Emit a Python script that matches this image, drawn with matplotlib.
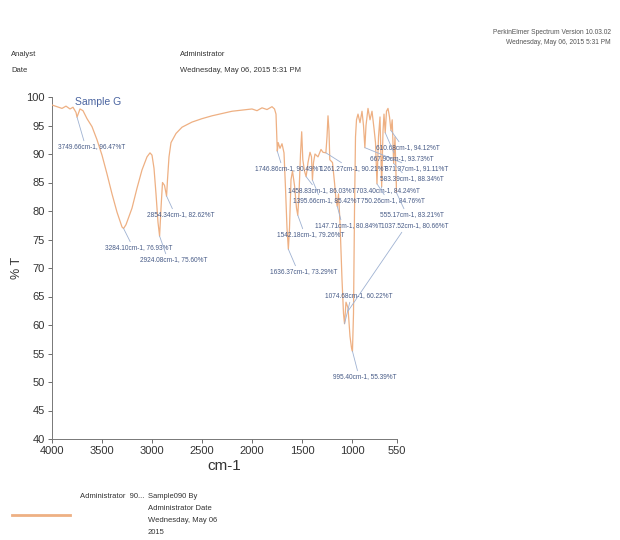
import matplotlib
matplotlib.use("Agg")
import matplotlib.pyplot as plt
from matplotlib.lines import Line2D

# ---------------- data ----------------
wavenumber = [4000, 3950, 3900, 3860, 3820, 3790, 3760, 3749.66, 3720, 3690, 3650,
              3600, 3550, 3500, 3450, 3400, 3350, 3300, 3284.10, 3260, 3200, 3150,
              3100, 3050, 3020, 3000, 2980, 2960, 2940, 2924.08, 2910, 2895, 2875,
              2854.34, 2845, 2830, 2810, 2760, 2700, 2600, 2500, 2400, 2300, 2200,
              2100, 2000, 1950, 1900, 1850, 1800, 1775, 1760, 1752, 1746.86, 1738,
              1720, 1700, 1680, 1665, 1650, 1636.37, 1625, 1610, 1595, 1575, 1555,
              1542.18, 1530, 1515, 1503, 1492, 1475, 1458.83, 1440, 1420, 1405,
              1395.66, 1385, 1370, 1340, 1310, 1290, 1261.27, 1250, 1240, 1230, 1222,
              1195, 1175, 1160, 1147.71, 1135, 1120, 1100, 1085, 1074.68, 1060, 1040,
              1020, 1005, 995.40, 985, 975, 965, 955, 940, 920, 900, 885, 871.37, 860,
              840, 820, 800, 780, 765, 750.26, 735, 720, 703.40, 690, 680, 667.90,
              655, 640, 625, 610.68, 598, 583.39, 570, 555.17, 550]
transmittance = [98.6, 98.3, 98.0, 98.4, 97.9, 98.2, 97.3, 96.47, 97.9, 97.6, 96.2,
                 94.8, 92.5, 89.8, 86.5, 83.0, 79.8, 77.2, 76.93, 77.6, 80.5, 84.0,
                 87.2, 89.5, 90.2, 89.8, 87.5, 83.0, 78.0, 75.60, 80.5, 85.0, 84.5,
                 82.62, 85.5, 89.5, 92.0, 93.6, 94.7, 95.6, 96.2, 96.7, 97.1, 97.5,
                 97.7, 97.9, 97.6, 98.1, 97.8, 98.3, 97.9, 97.0, 93.0, 90.49, 92.0,
                 91.0, 91.8, 90.2, 84.0, 77.0, 73.29, 77.0, 85.5, 87.0, 84.5, 80.5,
                 79.26, 83.0, 90.0, 93.9, 89.0, 87.0, 86.03, 88.5, 90.3, 89.5,
                 85.42, 88.5, 90.0, 89.5, 90.8, 90.3, 90.21, 93.0, 96.7, 94.0, 89.0,
                 88.5, 85.0, 82.0, 80.84, 83.0, 78.0, 68.0, 62.0, 60.22, 64.0, 63.0,
                 58.0, 56.0, 55.39, 62.0, 80.0, 93.0, 96.0, 97.0, 95.5, 97.5, 95.0, 91.11, 95.0,
                 98.0, 96.0, 97.5, 94.5, 92.0, 84.76, 93.0, 96.5, 84.24, 94.0, 97.0, 93.73,
                 97.5, 98.0, 96.5, 94.12, 96.0, 88.34, 93.0, 83.21, 85.0]

peak_wn = [3749.66, 3284.10, 2924.08, 2854.34, 1746.86, 1261.27, 871.37, 610.68,
           667.90, 583.39, 1458.83, 703.40, 1395.66, 750.26, 555.17, 1147.71,
           1037.52, 1542.18, 1636.37, 1074.68, 995.40]
peak_t = [96.47, 76.93, 75.60, 82.62, 90.49, 90.21, 91.11, 94.12,
          93.73, 88.34, 86.03, 84.24, 85.42, 84.76, 83.21, 80.84,
          80.66, 79.26, 73.29, 60.22, 55.39]
peak_y_on_curve = [96.47, 76.93, 75.60, 82.62, 90.49, 90.21, 91.11, 94.12,
                   93.73, 88.34, 86.03, 84.24, 85.42, 84.76, 83.21, 80.84,
                   62.5, 79.26, 73.29, 60.22, 55.39]

x_ticks = [4000, 3500, 3000, 2500, 2000, 1500, 1000, 550]
y_ticks = list(range(40, 101, 5))

# ---------------- layout (label left-x, centre-y in image pixels) ----------------
W, H = 620, 540
label_px = [(58, 147), (105, 248), (140, 260), (147, 215), (255, 169), (320, 169),
            (385, 169), (376, 148), (370, 159), (380, 179), (288, 191), (356, 191),
            (293, 201), (361, 201), (380, 215), (315, 226), (381, 226), (277, 235),
            (270, 272), (325, 296), (333, 377)]

plt.rcParams['font.family'] = ['Liberation Sans Narrow', 'Liberation Sans', 'DejaVu Sans']

line_col = '#eeb083'
lab_col = '#465a86'
lead_col = '#9fb2d2'

fig = plt.figure(figsize=(W / 100, H / 100), dpi=100)
fig.patch.set_facecolor('white')
ax = fig.add_axes([52 / W, 1 - 439 / H, (397 - 52) / W, (439 - 97) / H])
ax.plot(wavenumber, transmittance, color=line_col, lw=0.9, zorder=3)
ax.set_xlim(4000, 550)
ax.set_ylim(40, 100)
ax.set_xticks(x_ticks)
ax.set_yticks(y_ticks)
ax.tick_params(axis='both', labelsize=8, length=3, width=0.6, colors='#555555',
               labelcolor='#333333', pad=2)
for s in ['top', 'right']:
    ax.spines[s].set_visible(False)
for s in ['left', 'bottom']:
    ax.spines[s].set_color('#777777')
    ax.spines[s].set_linewidth(0.7)
ax.set_xlabel('cm-1', fontsize=11, color='#333333', labelpad=2)

ax.text(3770, 99.2, 'Sample G', fontsize=7.5, color='#4a64a0', va='center', ha='left')

for wn, t, ty, (lx, ly) in zip(peak_wn, peak_t, peak_y_on_curve, label_px):
    ax.annotate(f'{wn:.2f}cm-1, {t:.2f}%T', xy=(wn, ty),
                xytext=(lx, H - ly), textcoords='figure pixels',
                fontsize=4.7, color=lab_col, ha='left', va='center',
                annotation_clip=False,
                arrowprops=dict(arrowstyle='-', color=lead_col, lw=0.6,
                                shrinkA=0, shrinkB=0, relpos=(0.4, 0.9)))

def ftext(x, y, s, **kw):
    fig.text(x / W, 1 - y / H, s, va='center', **kw)

ftext(17, 268, '% T', fontsize=9, color='#333333', rotation=90, ha='center')
ftext(11, 55, 'Analyst', fontsize=5.5, color='#333333')
ftext(11, 71, 'Date', fontsize=5.5, color='#333333')
ftext(180, 55, 'Administrator', fontsize=5.5, color='#333333')
ftext(180, 71, 'Wednesday, May 06, 2015 5:31 PM', fontsize=5.5, color='#333333')
ftext(611, 33, 'PerkinElmer Spectrum Version 10.03.02', fontsize=4.8, color='#555555', ha='right')
ftext(611, 43, 'Wednesday, May 06, 2015 5:31 PM', fontsize=4.8, color='#555555', ha='right')

fig.add_artist(Line2D([12 / W, 70 / W], [1 - 515 / H, 1 - 515 / H], color=line_col,
                      lw=2, transform=fig.transFigure))
ftext(80, 497, 'Administrator  90...', fontsize=5.5, color='#333333')
for i, s in enumerate(['Sample090 By', 'Administrator Date', 'Wednesday, May 06', '2015']):
    ftext(148, 497 + 12 * i, s, fontsize=5.5, color='#333333')

fig.savefig('out.png', dpi=100, facecolor='white')
